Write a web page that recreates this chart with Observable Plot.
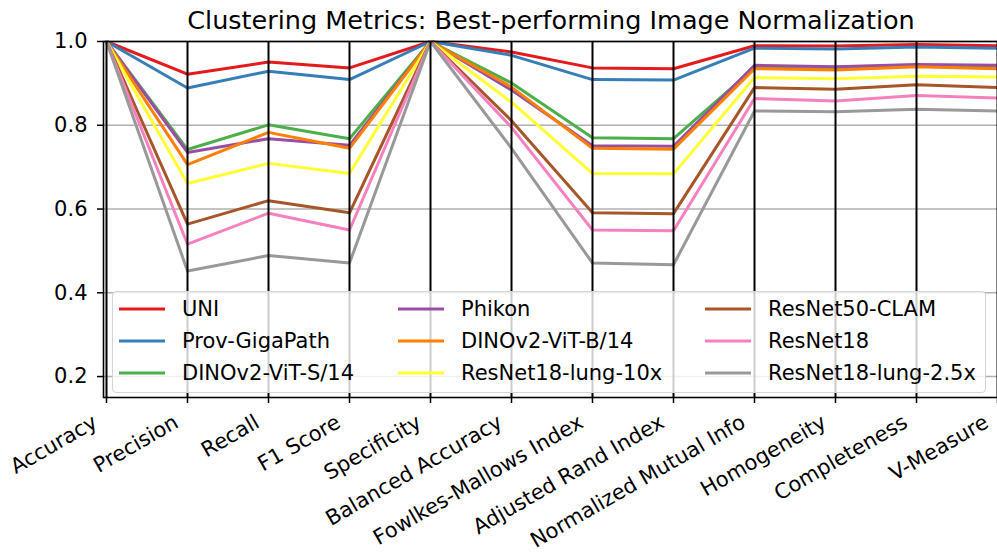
<!DOCTYPE html>
<html><head><meta charset="utf-8">
<script src="https://cdn.jsdelivr.net/npm/d3@7"></script>
<script src="https://cdn.jsdelivr.net/npm/@observablehq/plot@0.6"></script>
<style>
body{margin:0;background:#fff;font-family:"DejaVu Sans",sans-serif;}
#wrap{position:relative;width:997px;height:558px;overflow:hidden;background:#fff;}
#title{position:absolute;left:103px;width:896px;top:8px;text-align:center;font-size:25.5px;line-height:25.5px;color:#000;white-space:nowrap;}
#chart{position:absolute;left:0;top:34px;}
#legend{position:absolute;left:112px;top:291px;width:874px;height:102px;box-sizing:border-box;background:rgba(255,255,255,0.8);border:1px solid #d4d4d4;border-radius:4px;}
.item{position:absolute;display:flex;align-items:center;height:26px;font-size:21px;color:#000;white-space:nowrap;}
.item svg{margin-right:17px;}
</style>
</head><body>
<div id="wrap">
  <div id="title">Clustering Metrics: Best-performing Image Normalization</div>
  <div id="chart"></div>
  <div id="legend"></div>
</div>
<script>
const metrics = ["Accuracy","Precision","Recall","F1 Score","Specificity","Balanced Accuracy","Fowlkes-Mallows Index","Adjusted Rand Index","Normalized Mutual Info","Homogeneity","Completeness","V-Measure"];
const models = ["UNI","Prov-GigaPath","DINOv2-ViT-S/14","Phikon","DINOv2-ViT-B/14","ResNet18-lung-10x","ResNet50-CLAM","ResNet18","ResNet18-lung-2.5x"];
const colors = ["#e41a1c","#377eb8","#4daf4a","#984ea3","#ff7f00","#ffff33","#a65628","#f781bf","#999999"];

const uni          = [1.0, 0.922, 0.951, 0.937, 1.0, 0.975, 0.937, 0.935, 0.990, 0.989, 0.993, 0.990];
const provGigaPath = [1.0, 0.889, 0.929, 0.909, 1.0, 0.967, 0.909, 0.908, 0.984, 0.982, 0.987, 0.984];
const dinoS        = [1.0, 0.742, 0.801, 0.768, 1.0, 0.901, 0.770, 0.768, 0.937, 0.934, 0.942, 0.937];
const phikon       = [1.0, 0.735, 0.768, 0.752, 1.0, 0.884, 0.751, 0.750, 0.943, 0.940, 0.945, 0.943];
const dinoB        = [1.0, 0.706, 0.783, 0.745, 1.0, 0.891, 0.745, 0.743, 0.935, 0.932, 0.940, 0.935];
const resnetLung10 = [1.0, 0.661, 0.709, 0.685, 1.0, 0.855, 0.685, 0.684, 0.914, 0.911, 0.917, 0.915];
const resnet50Clam = [1.0, 0.564, 0.620, 0.591, 1.0, 0.811, 0.591, 0.589, 0.890, 0.886, 0.897, 0.890];
const resnet18     = [1.0, 0.516, 0.590, 0.550, 1.0, 0.795, 0.550, 0.548, 0.864, 0.858, 0.871, 0.865];
const resnetLung25 = [1.0, 0.452, 0.489, 0.471, 1.0, 0.745, 0.471, 0.467, 0.834, 0.832, 0.838, 0.834];
const seriesValues = [uni, provGigaPath, dinoS, phikon, dinoB, resnetLung10, resnet50Clam, resnet18, resnetLung25];
const yTicks = [0.2, 0.4, 0.6, 0.8, 1.0];

const rows = models.flatMap((m, i) => metrics.map((k, j) => ({model: m, metric: k, value: seriesValues[i][j]})));

const chart = Plot.plot({
  width: 997, height: 524,
  marginTop: 7, marginBottom: 161, marginLeft: 103, marginRight: -2,
  style: {fontFamily: "DejaVu Sans", fontSize: "21px", color: "black", background: "transparent", overflow: "visible"},
  x: {type: "point", domain: metrics, padding: 0, label: null},
  y: {domain: [0.15, 1.0], label: null},
  color: {domain: models, range: colors},
  marks: [
    Plot.ruleY(yTicks, {stroke: "#b0b0b0", strokeWidth: 1.4}),
    Plot.lineY(rows, {x: "metric", y: "value", z: "model", stroke: "model", strokeWidth: 3}),
    Plot.ruleX(metrics, {stroke: "black", strokeWidth: 2}),
    Plot.frame({stroke: "black", strokeWidth: 1.6}),
    Plot.axisY({ticks: yTicks, tickFormat: d3.format(".1f"), tickSize: 6, tickPadding: 10, fontSize: 21, strokeWidth: 1.5, label: null}),
    Plot.axisX({tickSize: 6, strokeWidth: 1.5, tickFormat: () => "", label: null}),
    Plot.axisX({tickRotate: -30, tickSize: 0, tickPadding: 12, fontSize: 21, dx: -11, dy: 11, label: null})
  ]
});
document.getElementById("chart").appendChild(chart);

// legend, 3 columns x 3 rows (column-major like matplotlib)
const legend = document.getElementById("legend");
const colX = [6, 285, 592];
const rowC = [18.3, 50, 82.3];
models.forEach((m, i) => {
  const c = Math.floor(i / 3), r = i % 3;
  const d = document.createElement("div");
  d.className = "item";
  d.style.left = colX[c] + "px";
  d.style.top = (rowC[r] - 13 - 1) + "px";
  d.innerHTML = `<svg width="46" height="6"><line x1="0" x2="46" y1="3" y2="3" stroke="${colors[i]}" stroke-width="3"/></svg><span>${m}</span>`;
  legend.appendChild(d);
});
</script>
</body></html>
